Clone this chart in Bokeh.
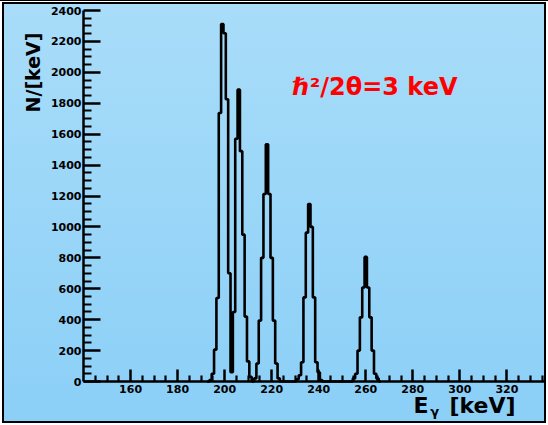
from bokeh.plotting import figure
from bokeh.models import FixedTicker, Label
from bokeh.embed import file_html
from bokeh.resources import INLINE

# histogram: bin centres (keV, 1 keV bins) and counts per keV
bin_centers = list(range(193, 267))
counts = [
    0, 10, 50, 206, 540, 1737, 2312, 2253, 1826, 700,   # 193-202
    60, 450, 1570, 1888, 1490, 950, 420, 130, 30, 0,    # 203-212
    20, 116, 394, 800, 1213, 1535, 1213, 800, 394, 116,  # 213-222
    20, 0, 0, 0, 0, 0, 0, 0, 15, 40,                    # 223-232
    125, 544, 963, 1148, 1000, 544, 125, 60, 10, 0,      # 233-242
    0, 0, 0, 0, 0, 0, 0, 0, 0, 0,                        # 243-252
    0, 0, 20, 50, 200, 415, 608, 806, 608, 415,          # 253-262
    200, 50, 20, 0,                                      # 263-266
]

x_ticks = [160, 180, 200, 220, 240, 260, 280, 300, 320]
x_minor = [145, 150, 155, 165, 170, 175, 185, 190, 195, 205, 210, 215, 225, 230, 235,
           245, 250, 255, 265, 270, 275, 285, 290, 295, 305, 310, 315, 325, 330, 335]
y_ticks = [0, 200, 400, 600, 800, 1000, 1200, 1400, 1600, 1800, 2000, 2200, 2400]
y_minor = [v for v in range(50, 2400, 50) if v % 200 != 0]

FONT = "DejaVu Sans"

# the frame fills the canvas; axes are pinned at x=140 and y=0
p = figure(width=548, height=425, x_range=(104.7, 337.7), y_range=(-284.6, 2464.7),
           output_backend="svg", toolbar_location=None,
           min_border_left=0, min_border_right=0, min_border_top=0, min_border_bottom=0)

p.background_fill_color = None
p.border_fill_color = None
p.outline_line_color = None
p.styles = {
    "background": "linear-gradient(180deg, #a9ddf9 0%, #8bcff7 100%)",
    "box-shadow": "inset 0 1px 0 0 #000000, inset 0 0 0 2px #ffffff, inset 0 0 0 4px #000000",
}
p.xgrid.grid_line_color = None
p.ygrid.grid_line_color = None

# step outline of histogram
edges = [c - 0.5 for c in bin_centers] + [bin_centers[-1] + 0.5]
vals = counts + [0]
p.step(x=edges, y=vals, mode="after", line_color="black", line_width=2.6)

for ax in (p.xaxis[0], p.yaxis[0]):
    ax.axis_line_width = 2.5
    ax.axis_line_color = "black"
    ax.major_tick_line_width = 2.5
    ax.minor_tick_line_width = 2.2
    ax.major_tick_out = 0
    ax.minor_tick_out = 0
    ax.major_label_text_font = FONT
    ax.major_label_text_font_style = "bold"
    ax.major_label_text_font_size = "11px"
    ax.major_label_text_color = "black"

p.xaxis.fixed_location = 0
p.yaxis.fixed_location = 140
p.xaxis.bounds = (140, 336)
p.yaxis.bounds = (0, 2400)
p.xaxis.ticker = FixedTicker(ticks=x_ticks, minor_ticks=x_minor)
p.yaxis.ticker = FixedTicker(ticks=y_ticks, minor_ticks=y_minor)
p.xaxis.major_tick_in = 12
p.xaxis.minor_tick_in = 6
p.yaxis.major_tick_in = 17
p.yaxis.minor_tick_in = 8
p.xaxis.major_label_standoff = 3
p.yaxis.major_label_standoff = 2

# y-axis title
p.add_layout(Label(x=118.7, y=1999, text="N/[keV]", angle=90, angle_units="deg",
                   text_align="center", text_baseline="middle",
                   text_font=FONT, text_font_style="bold", text_font_size="19px",
                   text_color="black"))

# x-axis title
p.add_layout(Label(x=280.3, y=-155, text="E", text_align="left", text_baseline="alphabetic",
                   text_font=FONT, text_font_style="bold", text_font_size="22px",
                   text_color="black"))
p.add_layout(Label(x=287.4, y=-196, text="γ", text_align="left", text_baseline="alphabetic",
                   text_font=FONT, text_font_style="bold", text_font_size="13px",
                   text_color="black"))
p.add_layout(Label(x=295.6, y=-155, text="[keV]", text_align="left", text_baseline="alphabetic",
                   text_font=FONT, text_font_style="bold", text_font_size="22px",
                   text_color="black"))

# annotation
p.add_layout(Label(x=228.9, y=1908, text="ℏ²/2θ=3 keV", text_align="left",
                   text_baseline="alphabetic", text_font=FONT, text_font_style="bold",
                   text_font_size="24px", text_color="#ff0000"))

open("out.html", "w").write(file_html(p, INLINE))
